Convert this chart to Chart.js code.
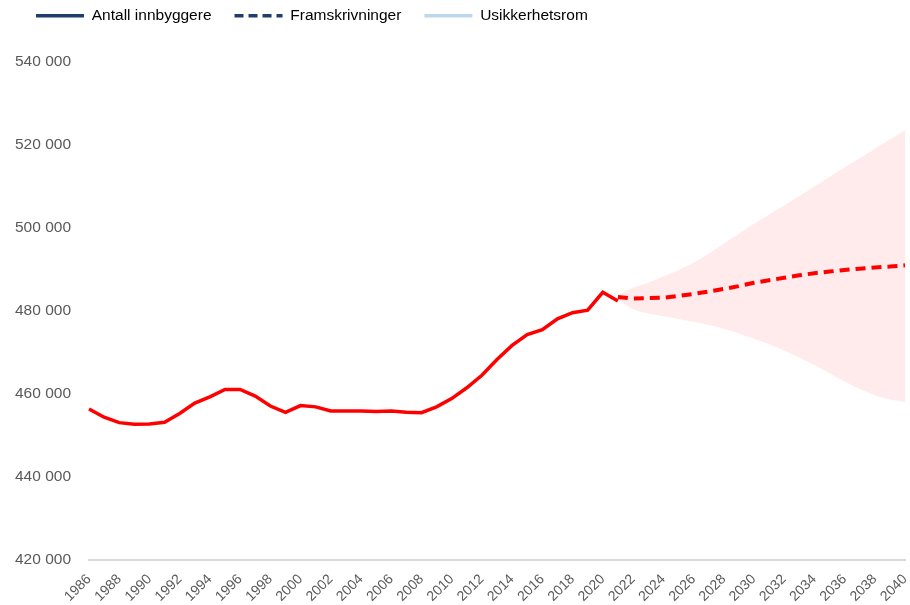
<!DOCTYPE html>
<html>
<head>
<meta charset="utf-8">
<script src="https://cdn.jsdelivr.net/npm/chart.js@4"></script>
<style>
  html, body { margin: 0; padding: 0; background: #fff; }
  #wrap { width: 910px; height: 605px; }
</style>
</head>
<body>
<div id="wrap"><canvas id="graf"></canvas></div>
<script>
// År 1986-2040
const aar = [];
for (let a = 1986; a <= 2040; a++) aar.push(String(a));

// Antall innbyggere (1986-2021)
const innbyggere = [
  456400, 454400, 453100, 452700, 452800, 453200, 455300, 457800, 459300, 461100,
  461100, 459500, 457100, 455600, 457200, 456900, 455900, 455900, 455900, 455800,
  455900, 455600, 455500, 456900, 458900, 461500, 464500, 468300, 471700, 474300,
  475500, 478100, 479600, 480200, 484500, 482400
];

// Framskrivninger (2021-2040)
const framskriving = [
  483400, 483000, 483100, 483200, 483600, 484100, 484700, 485300, 486000, 486800,
  487400, 488000, 488600, 489100, 489500, 489900, 490200, 490500, 490700, 491000
];

// Usikkerhetsrom, øvre og nedre grense (2021-2040)
const ovre = [
  483800, 485600, 486800, 488300, 489800, 491600, 493800, 496200, 498600, 501000,
  503200, 505400, 507700, 510000, 512300, 514600, 516800, 519100, 521300, 523500
];
const nedre = [
  482800, 480400, 479400, 478800, 478100, 477400, 476600, 475700, 474600, 473300,
  472000, 470500, 468800, 467000, 465000, 463000, 461200, 459700, 458700, 458100
];

const yTicks = [420000, 440000, 460000, 480000, 500000, 520000, 540000];

// fyll ut med null så alle serier har samme lengde
const start = aar.indexOf('2021');
const pad = (arr, fra) => aar.map((_, i) => (i >= fra && i - fra < arr.length) ? arr[i - fra] : null);

const fmt = v => String(v).replace(/\B(?=(\d{3})+(?!\d))/g, ' ');

const FONT = "'Liberation Sans', Arial, sans-serif";

// mer luft under legenden
const legendGap = {
  id: 'legendGap',
  beforeInit(chart) {
    const fit = chart.legend.fit;
    chart.legend.fit = function () {
      fit.call(this);
      this.height = 77;
    };
  }
};

new Chart(document.getElementById('graf'), {
  type: 'line',
  data: {
    labels: aar,
    datasets: [
      {
        label: 'Antall innbyggere',
        data: pad(innbyggere, 0),
        borderColor: '#ff0000',
        borderWidth: 3.5,
        pointRadius: 0,
        tension: 0,
        fill: false
      },
      {
        label: 'Framskrivninger',
        data: pad(framskriving, start),
        borderColor: '#ff0000',
        borderWidth: 4,
        borderDash: [10, 6],
        pointRadius: 0,
        tension: 0,
        fill: false
      },
      {
        label: 'Usikkerhetsrom',
        data: pad(ovre, start),
        borderWidth: 0,
        borderColor: 'rgba(0,0,0,0)',
        backgroundColor: 'rgba(255,0,0,0.08)',
        pointRadius: 0,
        tension: 0.3,
        fill: '+1'
      },
      {
        label: 'nedre',
        data: pad(nedre, start),
        borderWidth: 0,
        borderColor: 'rgba(0,0,0,0)',
        pointRadius: 0,
        tension: 0.3,
        fill: false
      }
    ]
  },
  options: {
    responsive: true,
    maintainAspectRatio: false,
    animation: false,
    layout: { padding: { top: -15, left: 13, right: 5, bottom: 0 } },
    plugins: {
      tooltip: { enabled: false },
      legend: {
        position: 'top',
        align: 'start',
        labels: {
          font: { family: FONT, size: 15.5 },
          color: '#404040',
          usePointStyle: true,
          pointStyleWidth: 48,
          padding: 23,
          generateLabels: () => [
            { text: 'Antall innbyggere', pointStyle: 'line', strokeStyle: '#1f3d6d', fillStyle: '#1f3d6d', lineWidth: 3.5, lineDash: [] },
            { text: 'Framskrivninger', pointStyle: 'line', strokeStyle: '#1f3d6d', fillStyle: '#1f3d6d', lineWidth: 3.5, lineDash: [9, 5] },
            { text: 'Usikkerhetsrom', pointStyle: 'line', strokeStyle: '#bdd7ee', fillStyle: '#bdd7ee', lineWidth: 3.5, lineDash: [] }
          ]
        }
      }
    },
    scales: {
      x: {
        grid: { display: false },
        border: { display: true, color: '#d9d9d9', width: 2 },
        afterFit: s => { s.paddingLeft = 0; s.paddingRight = 0; s.height = 45; },
        ticks: {
          autoSkip: false,
          maxRotation: 45,
          minRotation: 45,
          color: '#595959',
          font: { family: FONT, size: 14 },
          callback: function (v, i) { return i % 2 === 0 ? aar[i] : ''; }
        }
      },
      y: {
        min: yTicks[0],
        max: yTicks[yTicks.length - 1],
        afterBuildTicks: ax => { ax.ticks = yTicks.map(v => ({ value: v })); },
        afterFit: s => { s.width = 76; },
        grid: { display: false },
        border: { display: false },
        ticks: {
          padding: 10,
          color: '#595959',
          font: { family: FONT, size: 15.5 },
          callback: v => fmt(v)
        }
      }
    }
  },
  plugins: [legendGap]
});
</script>
</body>
</html>
